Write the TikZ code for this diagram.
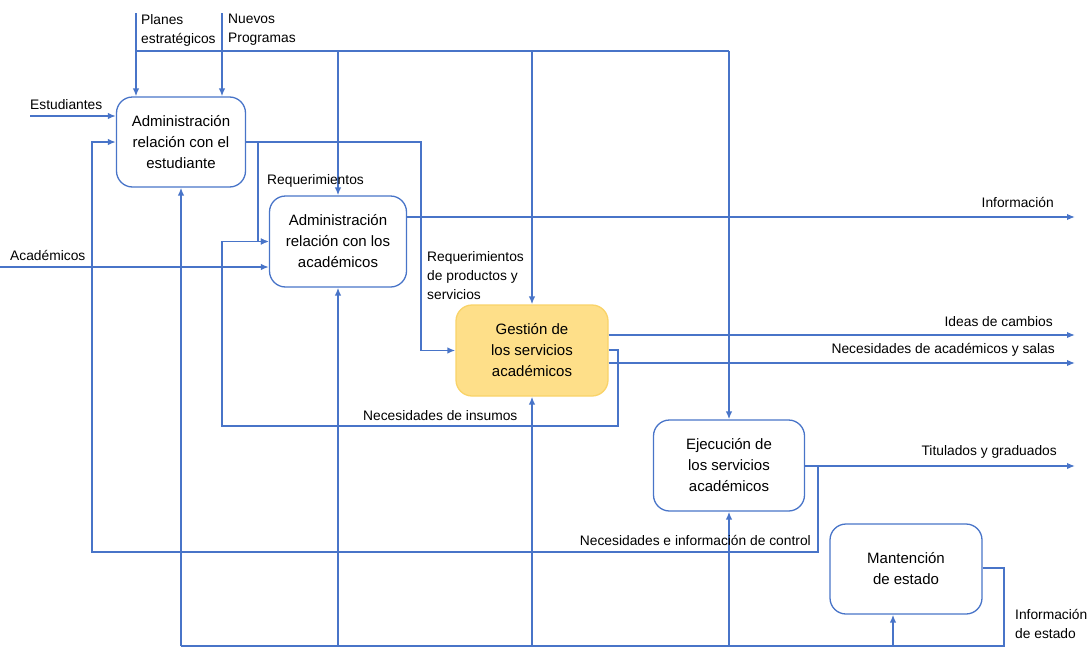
\documentclass[tikz,border=0pt]{standalone}
\usepackage{fontspec}
\setmainfont{Liberation Sans}
\usetikzlibrary{arrows.meta,calc}
\definecolor{ln}{RGB}{72,116,200}
\definecolor{gfill}{RGB}{254,223,137}
\definecolor{gdraw}{RGB}{249,211,104}
\begin{document}
\begin{tikzpicture}[x=1pt,y=-1pt,
  proc/.style={draw=ln, line width=1.3pt, rounded corners=16pt, align=center,
    font=\fontsize{15}{21}\selectfont, inner sep=0pt},
  flow/.style={draw=ln, line width=1.5pt, -{Latex[length=8pt,width=6.5pt]}},
  wire/.style={draw=ln, line width=1.5pt},
  lbl/.style={font=\fontsize{13.8}{19}\selectfont, inner sep=0pt}]
\useasboundingbox (0,0) rectangle (1090,648);

% process boxes
\node[proc, minimum width=129pt, minimum height=90pt] (aest) at (181,142)
  {Administración\\relación con el\\estudiante};
\node[proc, minimum width=137pt, minimum height=91pt] (aac) at (338,241.5)
  {Administración\\relación con los\\académicos};
\node[proc, draw=gdraw, fill=gfill, minimum width=152pt, minimum height=91pt] (gsa) at (532,350.5)
  {Gestión de\\los servicios\\académicos};
\node[proc, minimum width=151pt, minimum height=91pt] (eje) at (729,465.5)
  {Ejecución de\\los servicios\\académicos};
\node[proc, minimum width=152pt, minimum height=90pt] (man) at (906,569)
  {Mantención\\de estado};

% free-end coordinates
\coordinate (pl) at (136,13);
\coordinate (nv) at (222,13);
\coordinate (tb1) at (136,51);
\coordinate (tb2) at (729,51);
\coordinate (est) at (30,116);
\coordinate (aca) at (0,267);
\coordinate (info) at (1075,217);
\coordinate (ideas) at (1075,335);
\coordinate (necas) at (1075,363);
\coordinate (tit) at (1075,466);
\coordinate (rq) at (258,142);
\coordinate (rpA) at (421,142);
\coordinate (niA) at (618,350);
\coordinate (niB) at (618,426);
\coordinate (niC) at (222,426);
\coordinate (niD) at (222,241.5);
\coordinate (ncA) at (818,465.5);
\coordinate (ncB) at (818,552);
\coordinate (ncC) at (92,552);
\coordinate (ncD) at (92,142);
\coordinate (ieA) at (1004,568);
\coordinate (ieB) at (1004,646);
\coordinate (bb) at (181,646);
\coordinate (mb) at (893,646);

% top inputs
\draw[flow] (pl) -- (pl |- aest.north);
\draw[flow] (nv) -- (nv |- aest.north);
\draw[wire] (tb1) -- (tb2);
\draw[flow] (aac.north |- tb1) -- (aac.north);
\draw[flow] (gsa.north |- tb1) -- (gsa.north);
\draw[flow] (tb2) -- (eje.north);

% left inputs
\draw[flow] (est) -- (est -| aest.west);
\draw[flow] (aca) -- (aca -| aac.west);

% from estudiante box
\draw[flow] (aest.east) -- (rpA) -- (rpA |- gsa.west) -- (gsa.west);
\draw[flow] (rq) -- (rq |- aac.west) -- (aac.west);

% outputs to the right
\draw[flow] (info -| aac.east) -- (info);
\draw[flow] (ideas -| gsa.east) -- (ideas);
\draw[flow] (necas -| gsa.east) -- (necas);
\draw[flow] (tit -| eje.east) -- (tit);

% Necesidades de insumos loop
\draw[flow] (niA -| gsa.east) -- (niA) -- (niB) -- (niC) -- (niD) -- (aac.west);

% Necesidades e informacion de control loop
\draw[flow] (eje.east) -- (ncA) -- (ncB) -- (ncC) -- (ncD) -- (aest.west);

% Informacion de estado bus
\draw[wire] (ieA -| man.east) -- (ieA) -- (ieB) -- (bb);
\draw[flow] (bb) -- (aest.south);
\draw[flow] (aac.south |- bb) -- (aac.south);
\draw[flow] (gsa.south |- bb) -- (gsa.south);
\draw[flow] (eje.south |- bb) -- (eje.south);
\draw[flow] (mb) -- (mb |- man.south);

% labels
\node[lbl, anchor=north west, align=left] (lpl) at (141,14) {Planes\\estratégicos};
\node[lbl, anchor=north west, align=left] (lnv) at (228,14) {Nuevos\\Programas};
\node[lbl, anchor=north west] (lest) at (30,99) {Estudiantes};
\node[lbl, anchor=north west] (lrq) at (267,174) {Requerimientos};
\node[lbl, anchor=north west] (laca) at (10,250) {Académicos};
\node[lbl, anchor=north west, align=left] (lrp) at (427,251) {Requerimientos\\de productos y\\servicios};
\node[lbl, anchor=north east] (linfo) at (1054,197) {Información};
\node[lbl, anchor=north east] (lideas) at (1053,316) {Ideas de cambios};
\node[lbl, anchor=north east] (lnecas) at (1055,343) {Necesidades de académicos y salas};
\node[lbl, anchor=north west] (lni) at (363,410) {Necesidades de insumos};
\node[lbl, anchor=north east] (ltit) at (1057,445) {Titulados y graduados};
\node[lbl, anchor=north east] (lnc) at (811,535) {Necesidades e información de control};
\node[lbl, anchor=north west, align=left] (lie) at (1015,609) {Información\\de estado};
\end{tikzpicture}
\end{document}
